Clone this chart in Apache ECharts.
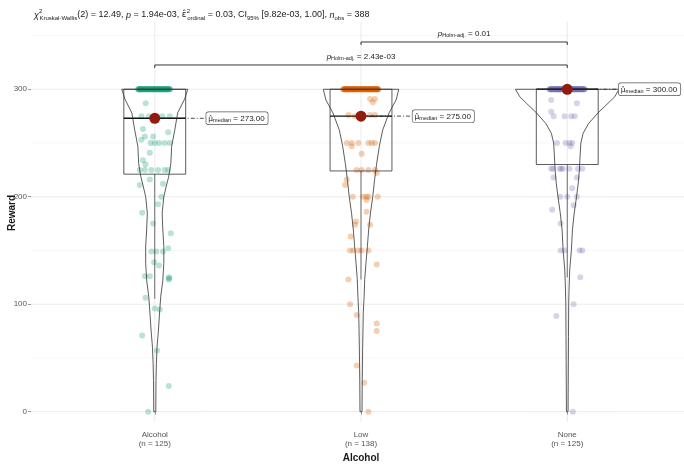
<!DOCTYPE html>
<html><head><meta charset="utf-8">
<script src="https://cdn.jsdelivr.net/npm/echarts@6/dist/echarts.min.js"></script>
<style>html,body{margin:0;padding:0;background:#fff}#c{width:684px;height:464px}</style>
</head><body><div id="c"></div>
<script>
// ---------------- data ----------------
const categories = ['Alcohol', 'Low', 'None'];
const groupN = [125, 138, 125];
const groupColors = ['#1B9E77', '#D95F02', '#7570B3'];
const medians = [273, 275, 300];
const boxQ1 = [221, 224, 230];
const boxQ3 = [300, 300, 300];
const whiskerLow = [105, 123, 125];
const whiskerHigh = [300, 300, 300];
const yTicks = [0, 100, 200, 300];
const yMinorTicks = [50, 150, 250, 350];

// violin outline: levels (Reward) and half widths (category units)
const violinAlcoholLevels = [300,291,278,262,247,231,219,210,200,185,170,154,138,122,107,91,76,60,45,29,0];
const violinAlcoholHalfWidth = [0.160,0.145,0.111,0.097,0.082,0.078,0.068,0.056,0.044,0.036,0.039,0.044,0.044,0.039,0.029,0.023,0.018,0.011,0.008,0.006,0.005];
const violinLowLevels = [300,290,278,262,247,231,216,200,185,169,154,138,123,107,92,60,29,0];
const violinLowHalfWidth = [0.183,0.170,0.136,0.105,0.089,0.076,0.066,0.057,0.046,0.037,0.031,0.024,0.018,0.015,0.011,0.008,0.006,0.005];
const violinNoneLevels = [300,293,287,278,268,259,250,237,225,212,200,185,169,150,132,116,101,70,0];
const violinNoneHalfWidth = [0.251,0.230,0.198,0.149,0.103,0.077,0.066,0.062,0.059,0.053,0.045,0.034,0.025,0.020,0.012,0.009,0.007,0.006,0.004];

// observations at the ceiling value 300: jitter offsets (category units)
const topValue = 300;
const alcoholTopJitter = [
 -0.081,-0.077,-0.072,-0.070,-0.066,-0.061,-0.058,-0.055,-0.050,-0.047,-0.043,-0.040,-0.036,-0.033,-0.029,-0.026,-0.022,-0.019,
 -0.015,-0.012,-0.008,-0.005,-0.002,0.002,0.005,0.009,0.013,0.016,0.020,0.024,0.027,0.031,0.035,0.038,0.042,0.046,0.049,0.053,
 0.057,0.060,0.064,0.068,0.071,0.075,-0.068,-0.052,-0.031,-0.010,0.011,0.029,0.044,0.058,0.066,-0.075,
 -0.079,-0.064,-0.045,-0.024,-0.004,0.007,0.018,0.033,0.051,0.062,0.070,-0.038,-0.017,0.000,0.040,-0.056,0.022,0.047,-0.073
];
const lowTopJitter = [
 -0.086,-0.082,-0.078,-0.075,-0.071,-0.067,-0.064,-0.060,-0.057,-0.053,-0.049,-0.046,-0.042,-0.039,-0.035,-0.031,-0.028,-0.024,
 -0.021,-0.017,-0.013,-0.010,-0.006,-0.003,0.001,0.004,0.008,0.012,0.015,0.019,0.022,0.026,0.030,0.033,0.037,0.040,0.044,0.048,
 0.051,0.055,0.058,0.062,0.066,0.069,0.073,0.076,0.080,0.084,-0.080,-0.062,-0.044,-0.026,-0.008,0.010,0.028,0.046,0.064,0.078,
 -0.070,-0.033,0.003,0.036,0.071,-0.055,
 -0.084,-0.073,-0.058,-0.040,-0.019,-0.001,0.017,0.035,0.053,0.067,0.082,-0.066,-0.048,-0.030,-0.012,0.006,0.024,0.042,0.060,
 0.075,-0.077,-0.037,0.013,0.050,0.079
];
const noneTopJitter = [
 -0.086,-0.083,-0.080,-0.077,-0.074,-0.071,-0.068,-0.065,-0.062,-0.059,-0.056,-0.053,-0.050,-0.047,-0.044,-0.041,-0.038,-0.035,
 -0.032,-0.029,-0.026,-0.023,-0.020,-0.017,-0.014,-0.011,-0.008,-0.005,-0.002,0.001,0.004,0.007,0.010,0.013,0.016,0.019,0.022,
 0.025,0.028,0.031,0.034,0.037,0.040,0.043,0.046,0.049,0.052,0.055,0.058,0.061,0.064,0.067,0.070,0.073,0.076,0.079,0.082,0.084,
 -0.078,-0.063,-0.048,-0.033,-0.018,-0.003,0.012,0.027,0.042,0.057,0.072,-0.040,0.020,0.050,-0.010,0.036,
 -0.084,-0.070,-0.055,-0.037,-0.021,-0.006,0.009,0.024,0.039,0.054,0.069,0.081,-0.045,0.003
];

// remaining observations: [Reward, jitter offset in category units]
const alcoholPoints = [
 [287,-0.044],
 [275,-0.065],[275,-0.027],[275,0.037],[275,0.073],[273,0.004],[275,0.012],
 [263,-0.057],[260,0.065],[256,-0.048],[256,-0.008],[253,-0.065],
 [250,0.000],[250,0.021],[250,0.048],[250,0.073],[250,-0.020],
 [241,-0.024],[234,-0.057],[230,-0.045],
 [225,-0.073],[225,-0.048],[225,-0.016],[225,0.016],[225,0.048],[225,0.065],
 [216,-0.024],[211,-0.073],[212,0.040],
 [200,0.032],[193,0.016],[185,-0.061],[175,-0.008],[166,0.078],
 [152,0.065],[149,-0.016],[149,0.008],[149,0.040],
 [139,-0.003],[136,0.021],
 [126,-0.048],[126,-0.024],[124,0.070],[125,0.069],[123,0.068],
 [106,-0.045],[96,0.000],[95,0.024],
 [71,-0.061],[57,0.011],[24,0.068],[0,-0.032]
];
const lowPoints = [
 [291,0.044],[291,0.068],[288,0.057],
 [276,-0.061],[276,0.044],[276,0.068],[275,0.000],[275,-0.030],
 [250,-0.069],[250,-0.045],[250,-0.013],[250,0.036],[250,0.052],[250,0.068],
 [247,-0.045],[240,0.003],
 [225,-0.021],[225,0.003],[225,0.036],[225,0.068],
 [222,0.076],[216,-0.069],[211,-0.077],
 [200,-0.040],[200,0.011],[200,0.027],[200,0.036],[200,0.081],
 [197,0.027],[186,0.027],[177,-0.024],[174,0.044],[174,-0.029],[163,-0.050],
 [150,-0.053],[150,-0.037],[150,-0.013],[150,0.003],[150,0.036],
 [137,0.076],[123,-0.061],[100,-0.053],[90,-0.021],[82,0.076],[75,0.076],[43,-0.021],[27,0.016],
 [0,0.036]
];
const nonePoints = [
 [290,-0.078],[287,0.047],[279,-0.078],
 [275,-0.066],[275,-0.013],[275,0.019],[275,0.036],
 [250,-0.050],[250,-0.008],[250,0.011],[250,0.024],
 [247,0.016],
 [226,-0.078],[226,-0.069],[226,-0.037],[226,-0.029],[226,-0.021],[226,0.011],[226,0.052],[226,0.073],
 [218,-0.066],[218,0.047],[208,0.024],
 [200,-0.034],[200,0.000],[200,0.047],
 [192,0.031],[188,-0.073],[175,-0.032],
 [150,-0.032],[150,-0.013],[150,0.060],[150,0.073],
 [125,0.063],[100,0.031],[89,-0.053],[0,0.027]
];

// pairwise comparisons
const pairGroups = [[2, 3], [1, 3]];
const pairLabels = ['0.01', '2.43e-03'];
const pairY = [344, 322.6];

// ---------------- chart ----------------
const FONT = "'Liberation Sans', Arial, sans-serif";
const violinLevels = [violinAlcoholLevels, violinLowLevels, violinNoneLevels];
const violinHalfWidths = [violinAlcoholHalfWidth, violinLowHalfWidth, violinNoneHalfWidth];
const groupTopJitter = [alcoholTopJitter, lowTopJitter, noneTopJitter];
const groupPoints = [alcoholPoints, lowPoints, nonePoints];
const Y_MIN = -9.6, Y_MAX = 362.6;
const X_MIN = 0.4, X_MAX = 3.6;
const BOX_HALF = 0.15, LABEL_DX = 0.25;
const LINE = '#333333';

const chart = echarts.init(document.getElementById('c'), null, {renderer: 'canvas', width: 684, height: 464});

function renderGridLines(params, api) {
  const children = [];
  yMinorTicks.forEach(v => {
    const a = api.coord([X_MIN, v]), b = api.coord([X_MAX, v]);
    children.push({type: 'line', shape: {x1: a[0], y1: a[1], x2: b[0], y2: b[1]}, style: {stroke: '#f0f0f0', lineWidth: 0.6}});
  });
  yTicks.forEach(v => {
    const a = api.coord([X_MIN, v]), b = api.coord([X_MAX, v]);
    children.push({type: 'line', shape: {x1: a[0], y1: a[1], x2: b[0], y2: b[1]}, style: {stroke: '#e6e6e6', lineWidth: 0.8}});
  });
  categories.forEach((c, i) => {
    const a = api.coord([i + 1, Y_MIN]), b = api.coord([i + 1, Y_MAX]);
    children.push({type: 'line', shape: {x1: a[0], y1: a[1], x2: b[0], y2: b[1]}, style: {stroke: '#e6e6e6', lineWidth: 0.8}});
  });
  return {type: 'group', children};
}

function renderViolinBox(params, api) {
  const g = params.dataIndex;
  const cx = g + 1;
  const lv = violinLevels[g], hw = violinHalfWidths[g];
  const left = lv.map((v, i) => api.coord([cx - hw[i], v]));
  const right = lv.map((v, i) => api.coord([cx + hw[i], v])).reverse();
  const tl = api.coord([cx - BOX_HALF, boxQ3[g]]);
  const br = api.coord([cx + BOX_HALF, boxQ1[g]]);
  const m1 = api.coord([cx - BOX_HALF, medians[g]]);
  const m2 = api.coord([cx + BOX_HALF, medians[g]]);
  const w1 = api.coord([cx, boxQ1[g]]), w2 = api.coord([cx, whiskerLow[g]]);
  const w3 = api.coord([cx, boxQ3[g]]), w4 = api.coord([cx, whiskerHigh[g]]);
  return {type: 'group', children: [
    {type: 'line', shape: {x1: w1[0], y1: w1[1], x2: w2[0], y2: w2[1]}, style: {stroke: LINE, lineWidth: 0.7}},
    {type: 'line', shape: {x1: w3[0], y1: w3[1], x2: w4[0], y2: w4[1]}, style: {stroke: LINE, lineWidth: 0.7}},
    {type: 'rect', shape: {x: tl[0], y: tl[1], width: br[0] - tl[0], height: br[1] - tl[1]}, style: {fill: 'none', stroke: LINE, lineWidth: 0.8}},
    {type: 'line', shape: {x1: m1[0], y1: m1[1], x2: m2[0], y2: m2[1]}, style: {stroke: '#111', lineWidth: 1.4}},
    {type: 'polygon', shape: {points: left.concat(right)}, style: {fill: 'none', stroke: LINE, lineWidth: 0.8}}
  ]};
}

function renderMedianLabel(params, api) {
  const g = params.dataIndex;
  const p = api.coord([g + 1, medians[g]]);
  const q = api.coord([g + 1 + LABEL_DX, medians[g]]);
  return {type: 'group', children: [
    {type: 'line', shape: {x1: p[0], y1: p[1], x2: q[0], y2: q[1]}, style: {stroke: '#222', lineWidth: 0.8, lineDash: [4, 2, 1, 2]}},
    {type: 'text', x: q[0], y: q[1], style: {
      text: '{mu|\u03BC\u0302}{sub|median}{t| = ' + medians[g].toFixed(2) + '}',
      align: 'left', verticalAlign: 'middle',
      backgroundColor: '#ffffff', borderColor: '#555', borderWidth: 0.7, borderRadius: 2, padding: [2, 3, 1, 2],
      rich: {
        mu: {fontSize: 7.5, fontFamily: "'DejaVu Sans', sans-serif", fill: '#222'},
        sub: {fontSize: 5.5, fontFamily: FONT, fill: '#222', padding: [3, 0, 0, 0]},
        t: {fontSize: 8, fontFamily: FONT, fill: '#222'}
      }
    }}
  ]};
}

function renderBrackets(params, api) {
  const i = params.dataIndex;
  const [ga, gb] = pairGroups[i];
  const a = api.coord([ga, pairY[i]]), b = api.coord([gb, pairY[i]]);
  const tick = 3;
  return {type: 'group', children: [
    {type: 'polyline', shape: {points: [[a[0], a[1] + tick], a, b, [b[0], b[1] + tick]]}, style: {stroke: '#222', lineWidth: 0.9, fill: 'none'}},
    {type: 'text', x: (a[0] + b[0]) / 2, y: a[1] - 8.5, style: {
      text: '{p|p}{sub|Holm-adj.}{t| = ' + pairLabels[i] + '}',
      align: 'center', verticalAlign: 'middle',
      rich: {
        p: {fontSize: 8, fontStyle: 'italic', fontFamily: FONT, fill: '#222'},
        sub: {fontSize: 5.5, fontFamily: FONT, fill: '#222', padding: [3, 0, 0, 0]},
        t: {fontSize: 8, fontFamily: FONT, fill: '#222'}
      }
    }}
  ]};
}

const titleText =
  '{it|\u03C7}{sup|2}{sub|Kruskal-Wallis}{n|(2) = 12.49, }{it|p}{n| = 1.94e-03, }' +
  '{hat|\u03B5\u0302}{sup|2}{sub|ordinal}{n| = 0.03, CI}{sub|95%}{n| [9.82e-03, 1.00], }{it|n}{sub|obs}{n| = 388}';

const allPoints = groupPoints.map((pts, g) =>
  groupTopJitter[g].map(j => [g + 1 + j, topValue]).concat(pts.map(p => [g + 1 + p[1], p[0]])));

const option = {
  backgroundColor: '#ffffff',
  animation: false,
  title: {
    text: titleText, left: 29, top: 3,
    textStyle: {
      fontFamily: FONT, fontSize: 9, fontWeight: 'normal', color: '#1a1a1a',
      rich: {
        n: {fontSize: 9, fontWeight: 'normal', fontFamily: FONT, color: '#1a1a1a'},
        it: {fontSize: 9, fontWeight: 'normal', fontStyle: 'italic', fontFamily: FONT, color: '#1a1a1a'},
        hat: {fontSize: 9, fontWeight: 'normal', fontFamily: "'DejaVu Sans', sans-serif", color: '#1a1a1a'},
        sup: {fontSize: 6, fontWeight: 'normal', fontFamily: FONT, color: '#1a1a1a', width: 0.5, padding: [0, 0, 8, 0]},
        sub: {fontSize: 6, fontWeight: 'normal', fontFamily: FONT, color: '#1a1a1a', padding: [6, 0, 0, 0]}
      }
    }
  },
  grid: {left: 31, top: 22, width: 660, height: 400, containLabel: false, outerBoundsMode: 'none'},
  xAxis: {
    type: 'value', min: X_MIN, max: X_MAX,
    axisLine: {show: false}, splitLine: {show: false},
    axisTick: {show: true, customValues: [1, 2, 3], length: 3, lineStyle: {color: '#555', width: 0.6}},
    axisLabel: {
      customValues: [1, 2, 3], color: '#555', fontSize: 8, lineHeight: 9, margin: 8, fontFamily: FONT,
      formatter: v => { const i = Math.round(v) - 1; return categories[i] + '\n(n = ' + groupN[i] + ')'; }
    },
    name: 'Alcohol', nameLocation: 'middle', nameGap: 29,
    nameTextStyle: {fontWeight: 'bold', fontSize: 10, color: '#1a1a1a', fontFamily: FONT}
  },
  yAxis: {
    type: 'value', min: Y_MIN, max: Y_MAX,
    axisLine: {show: false}, splitLine: {show: false},
    axisTick: {show: true, customValues: yTicks, length: 3, lineStyle: {color: '#555', width: 0.6}},
    axisLabel: {customValues: yTicks, color: '#555', fontSize: 8, margin: 4, fontFamily: FONT}
  },
  graphic: [{
    type: 'text', x: 12, y: 213, rotation: Math.PI / 2,
    style: {text: 'Reward', fontWeight: 'bold', fontSize: 10, fontFamily: FONT, fill: '#1a1a1a', align: 'center', verticalAlign: 'middle'}
  }],
  series: [
    {type: 'custom', z: 0, silent: true, renderItem: renderGridLines, data: [[1, 0]], encode: {x: 0, y: 1}},
    ...allPoints.map((data, g) => ({
      type: 'scatter', z: 2, silent: true, symbolSize: 6,
      itemStyle: {color: groupColors[g], opacity: 0.3},
      data
    })),
    {type: 'custom', z: 3, silent: true, renderItem: renderViolinBox, data: categories.map((c, g) => [g + 1, medians[g]]), encode: {x: 0, y: 1}},
    {type: 'custom', z: 4, silent: true, renderItem: renderMedianLabel, data: categories.map((c, g) => [g + 1, medians[g]]), encode: {x: 0, y: 1}},
    {type: 'scatter', z: 5, silent: true, symbolSize: 11, itemStyle: {color: '#921b0d', opacity: 1},
      data: medians.map((m, g) => [g + 1, m])},
    {type: 'custom', z: 4, silent: true, renderItem: renderBrackets, data: pairY.map((y, i) => [pairGroups[i][0], y]), encode: {x: 0, y: 1}}
  ]
};
chart.setOption(option);
</script>
</body></html>
